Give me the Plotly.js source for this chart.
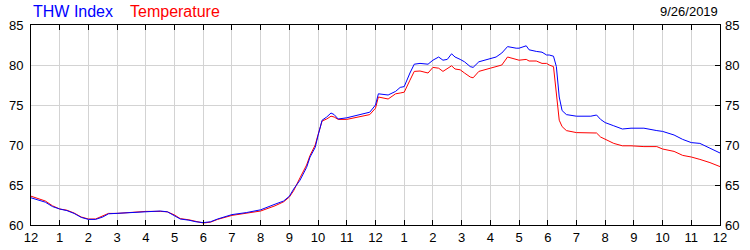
<!DOCTYPE html>
<html>
<head>
<meta charset="utf-8">
<script src="https://cdn.plot.ly/plotly-3.0.1.min.js"></script>
<style>html,body{margin:0;padding:0;background:#fff;}#chart{width:750px;height:250px;}</style>
</head>
<body>
<div id="chart"></div>
<script>
// Time of day in hours (0 = 12 midnight, 24 = next midnight)
const hours = [0,0.25,0.5,0.75,1,1.25,1.5,1.75,2,2.25,2.5,2.7,3,3.5,4,4.5,4.75,5,5.2,5.5,5.75,6,6.25,6.5,7,7.5,8,8.5,8.8,9,9.15,9.37,9.6,9.72,9.9,10,10.14,10.3,10.45,10.56,10.7,11,11.5,11.8,12,12.1,12.44,12.7,12.86,13,13.2,13.35,13.55,13.83,14,14.2,14.35,14.5,14.65,14.77,14.95,15.1,15.3,15.4,15.6,16,16.2,16.4,16.6,16.9,17,17.25,17.35,17.6,17.8,17.96,18.05,18.2,18.3,18.4,18.5,18.65,19,19.5,19.7,19.84,20,20.3,20.6,20.9,21.35,21.8,22,22.4,22.7,23,23.3,23.65,24];
const temperature = [63.6,63.3,63.0,62.4,62.0,61.85,61.5,61.0,60.75,60.75,61.1,61.45,61.45,61.55,61.7,61.7,61.65,61.25,60.8,60.65,60.45,60.25,60.35,60.7,61.2,61.45,61.75,62.4,62.9,63.5,64.3,65.9,67.5,68.7,70.0,71.3,73.0,73.25,73.6,73.5,73.2,73.2,73.6,73.8,74.6,76.0,75.75,76.4,76.5,76.6,78.1,79.2,79.25,79.0,79.7,79.6,79.2,79.5,79.9,79.5,79.4,79.0,78.5,78.4,79.2,79.6,79.8,80.0,81.0,80.75,80.6,80.7,80.5,80.5,80.2,80.2,80.0,79.8,76.0,73.1,72.3,71.8,71.55,71.5,71.5,71.0,70.7,70.2,69.9,69.9,69.8,69.8,69.5,69.2,68.7,68.5,68.2,67.8,67.3];
const thwIndex = [63.4,63.1,62.85,62.3,62.0,61.8,61.45,60.95,60.7,60.7,61.0,61.4,61.45,61.55,61.7,61.75,61.65,61.2,60.75,60.6,60.4,60.3,60.4,60.75,61.3,61.55,61.9,62.6,63.0,63.6,64.5,65.6,67.2,68.5,69.7,71.2,73.1,73.5,74.0,73.8,73.25,73.4,73.8,74.1,75.0,76.4,76.25,76.7,77.2,77.3,79.0,80.1,80.2,80.1,80.6,81.0,80.6,80.7,81.4,81.0,80.7,80.4,79.8,79.7,80.4,80.8,81.0,81.5,82.3,82.1,82.1,82.4,81.9,81.7,81.6,81.25,81.25,81.1,79.8,76.0,74.3,73.8,73.6,73.6,73.75,73.2,72.8,72.4,72.0,72.1,72.1,71.8,71.7,71.25,70.7,70.3,70.2,69.6,69.0];
const tickHours = [0,1,2,3,4,5,6,7,8,9,10,11,12,13,14,15,16,17,18,19,20,21,22,23,24];
const tickLabels = ["12","1","2","3","4","5","6","7","8","9","10","11","12","1","2","3","4","5","6","7","8","9","10","11","12"];
const yTicks = [60,65,70,75,80,85];
const seriesNames = ["THW Index","Temperature"];
const dateLabel = "9/26/2019";

const font = {family: "Liberation Sans, Arial, sans-serif", size: 13, color: "#000"};
const traces = [
  {x: hours, y: temperature, type: "scatter", mode: "lines", name: seriesNames[1],
   line: {color: "#ff0000", width: 1}, hoverinfo: "skip"},
  {x: hours, y: thwIndex, type: "scatter", mode: "lines", name: seriesNames[0],
   line: {color: "#0000ff", width: 1}, hoverinfo: "skip"},
  {x: [0], y: [60], type: "scatter", mode: "none", yaxis: "y2", showlegend: false, hoverinfo: "skip"}
];
const layout = {
  width: 750, height: 250,
  margin: {l: 31, r: 30, t: 25, b: 25, pad: 0},
  paper_bgcolor: "#fff", plot_bgcolor: "#fff",
  showlegend: false,
  font: font,
  xaxis: {range: [0, 24], tickvals: tickHours, ticktext: tickLabels, ticks: "inside", ticklen: 5,
          tickcolor: "#000", showgrid: true, gridcolor: "#d3d3d3", gridwidth: 1, showline: true,
          linecolor: "#000", linewidth: 1, mirror: "ticks", zeroline: false, tickfont: font, fixedrange: true},
  yaxis: {range: [60, 85], tickvals: yTicks, ticks: "", showgrid: true, gridcolor: "#d3d3d3", gridwidth: 1,
          showline: true, linecolor: "#000", linewidth: 1, mirror: true, zeroline: false, tickfont: font,
          ticklabelstandoff: 4, fixedrange: true},
  yaxis2: {range: [60, 85], tickvals: yTicks, overlaying: "y", side: "right", ticks: "inside", ticklen: 5,
           tickcolor: "#000", showgrid: false, showline: false, zeroline: false, tickfont: font,
           ticklabelstandoff: 4, fixedrange: true},
  annotations: [
    {xref: "paper", yref: "paper", x: 0.0, y: 1.0675, xanchor: "left", yanchor: "middle", xshift: 0,
     text: seriesNames[0], showarrow: false, font: {family: font.family, size: 16, color: "#0000ff"}},
    {xref: "paper", yref: "paper", x: 0.1408, y: 1.0675, xanchor: "left", yanchor: "middle",
     text: seriesNames[1], showarrow: false, font: {family: font.family, size: 16, color: "#ff0000"}},
    {xref: "paper", yref: "paper", x: 1.0, y: 1.0675, xanchor: "right", yanchor: "middle",
     text: dateLabel, showarrow: false, font: {family: font.family, size: 13, color: "#000"}}
  ]
};
Plotly.newPlot("chart", traces, layout, {staticPlot: true, displayModeBar: false});
</script>
</body>
</html>
